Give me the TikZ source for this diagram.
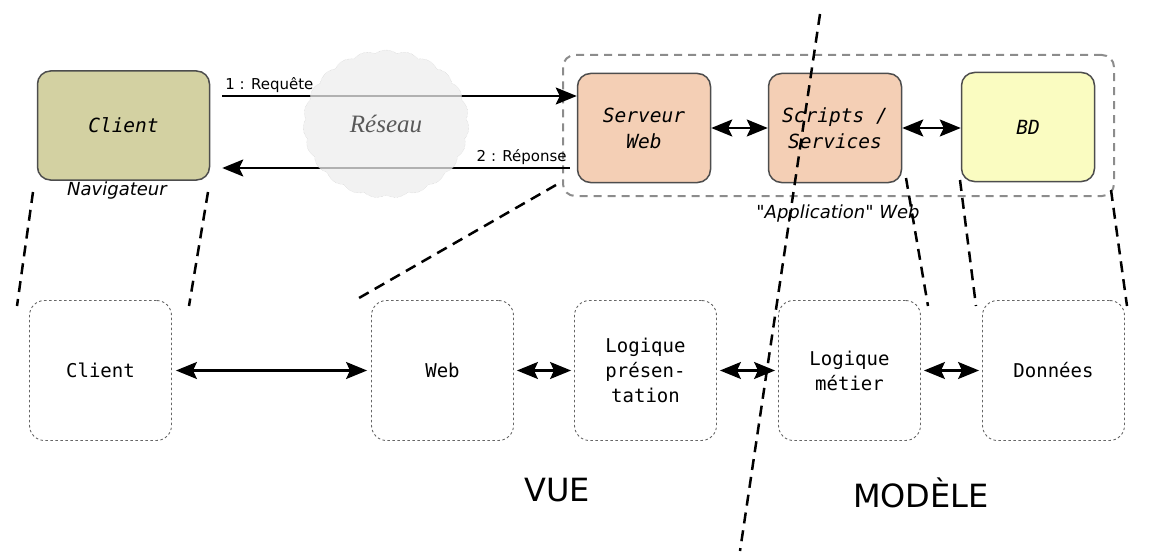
\documentclass[tikz,border=0pt]{standalone}
\usepackage{fontspec}
\setmainfont{DejaVu Sans}
\setsansfont{DejaVu Sans}
\setmonofont{DejaVu Sans Mono}
\newfontfamily\reseaufont{Liberation Serif}
\usepackage{xcolor}
\usetikzlibrary{shapes, arrows.meta, calc, positioning}

\definecolor{fondclient}{RGB}{211,209,162}
\definecolor{fondserveur}{RGB}{244,207,181}
\definecolor{fondbd}{RGB}{250,252,193}
\definecolor{bord}{RGB}{77,77,77}

\begin{document}
\begin{tikzpicture}[x=1pt, y=-1pt,
    boite/.style={draw=bord, line width=1.5pt, rounded corners=13pt, minimum width=133pt, minimum height=109pt, align=center, font=\fontsize{19.5}{26}\selectfont\ttfamily\itshape},
    couche/.style={draw=black!60, line width=0.9pt, dash pattern=on 2.5pt off 2.5pt, rounded corners=15pt, minimum width=142pt, minimum height=140pt, align=center, font=\fontsize{19}{25}\selectfont\ttfamily},
    fleche/.style={-{Stealth[length=21pt, width=17pt, inset=4pt]}, line width=2.2pt},
    dfleche/.style={{Stealth[length=21pt, width=17pt, inset=4pt]}-{Stealth[length=21pt, width=17pt, inset=4pt]}, line width=2.2pt},
    coupe/.style={line width=2.5pt, dash pattern=on 11pt off 7pt},
    legende/.style={font=\fontsize{18}{20}\selectfont\itshape},
    message/.style={font=\fontsize{15}{17}\selectfont, inner sep=2pt}]
    \useasboundingbox (0,0) rectangle (1156,559);

    % partie haute : client, reseau, application web
    \node[boite, fill=fondclient, minimum width=172pt] (client) at (123.5,125.5) {Client};
    \node[legende] (navigateur) at (117,191) {Navigateur};
    \node[boite, fill=fondserveur] (serveur) at (644,128) {Serveur\\Web};
    \node[boite, fill=fondserveur] (scripts) at (835,128) {Scripts /\\Services};
    \node[boite, fill=fondbd] (bd) at (1028,127) {BD};
    \node[draw=black!45, line width=2pt, dash pattern=on 8pt off 6pt, rounded corners=12pt, minimum width=551pt, minimum height=141pt] (appli) at (838.5,125.5) {};
    \node[legende] (nomappli) at (838,214) {\textquotedbl Application\textquotedbl{} Web};

    \coordinate (req) at ([yshift=32pt]serveur.west);
    \coordinate (rep) at ([xshift=-7pt,yshift=-40pt]serveur.west);
    \draw[fleche] ($(client.east |- req)+(12,0)$) -- (req) node[pos=0, above right, message]{1 : Requête};
    \draw[fleche] (rep) -- ($(client.east |- rep)+(12,0)$) node[pos=0, above left, message]{2 : Réponse};
    \node[cloud, cloud puffs=23, cloud puff arc=75, aspect=1.15, minimum width=166pt, minimum height=148pt, fill=black!7, fill opacity=0.75, draw=black!20, densely dotted, text opacity=1, text=black!65, font=\fontsize{25}{28}\selectfont\reseaufont\itshape] (reseau) at (386,124) {Réseau};

    \draw[dfleche] (serveur) -- (scripts);
    \draw[dfleche] (scripts.east) -- (scripts.east -| bd.west);

    % partie basse : les couches
    \node[couche] (cclient) at (100.5,370.5) {Client};
    \node[couche] (cweb) at (442.5,370.5) {Web};
    \node[couche] (cpres) at (645.5,370.5) {Logique\\présen-\\tation};
    \node[couche] (cmetier) at (849.5,370.5) {Logique\\métier};
    \node[couche] (cdonnees) at (1053.5,370.5) {Données};
    \draw[dfleche, shorten <=4pt, shorten >=4pt] (cclient) -- (cweb);
    \draw[dfleche, shorten <=3pt, shorten >=3pt] (cweb) -- (cpres);
    \draw[dfleche, shorten <=3pt, shorten >=3pt] (cpres) -- (cmetier);
    \draw[dfleche, shorten <=3pt, shorten >=3pt] (cmetier) -- (cdonnees);

    \node[font=\fontsize{32}{36}\selectfont] (vue) at (557,490) {VUE};
    \node[font=\fontsize{32}{36}\selectfont] (modele) at (921,493) {MODÈLE};

    % traits de projection
    \coordinate (p1h) at (33,192);   \coordinate (p1b) at (17,306);
    \coordinate (p2h) at (208,192);  \coordinate (p2b) at (189,306);
    \coordinate (p3h) at (556,185);  \coordinate (p3b) at (359,298);
    \coordinate (p4h) at (906,178);  \coordinate (p4b) at (928,306);
    \coordinate (p5h) at (960,180);  \coordinate (p5b) at (976,306);
    \coordinate (p6h) at (1111,190); \coordinate (p6b) at (1127,306);
    \coordinate (sep-haut) at (820,14);
    \coordinate (sep-bas) at (740,551);
    \foreach \i in {1,...,6}
        \draw[coupe] (p\i h) -- (p\i b);
    \draw[coupe] (sep-haut) -- (sep-bas);
\end{tikzpicture}
\end{document}
